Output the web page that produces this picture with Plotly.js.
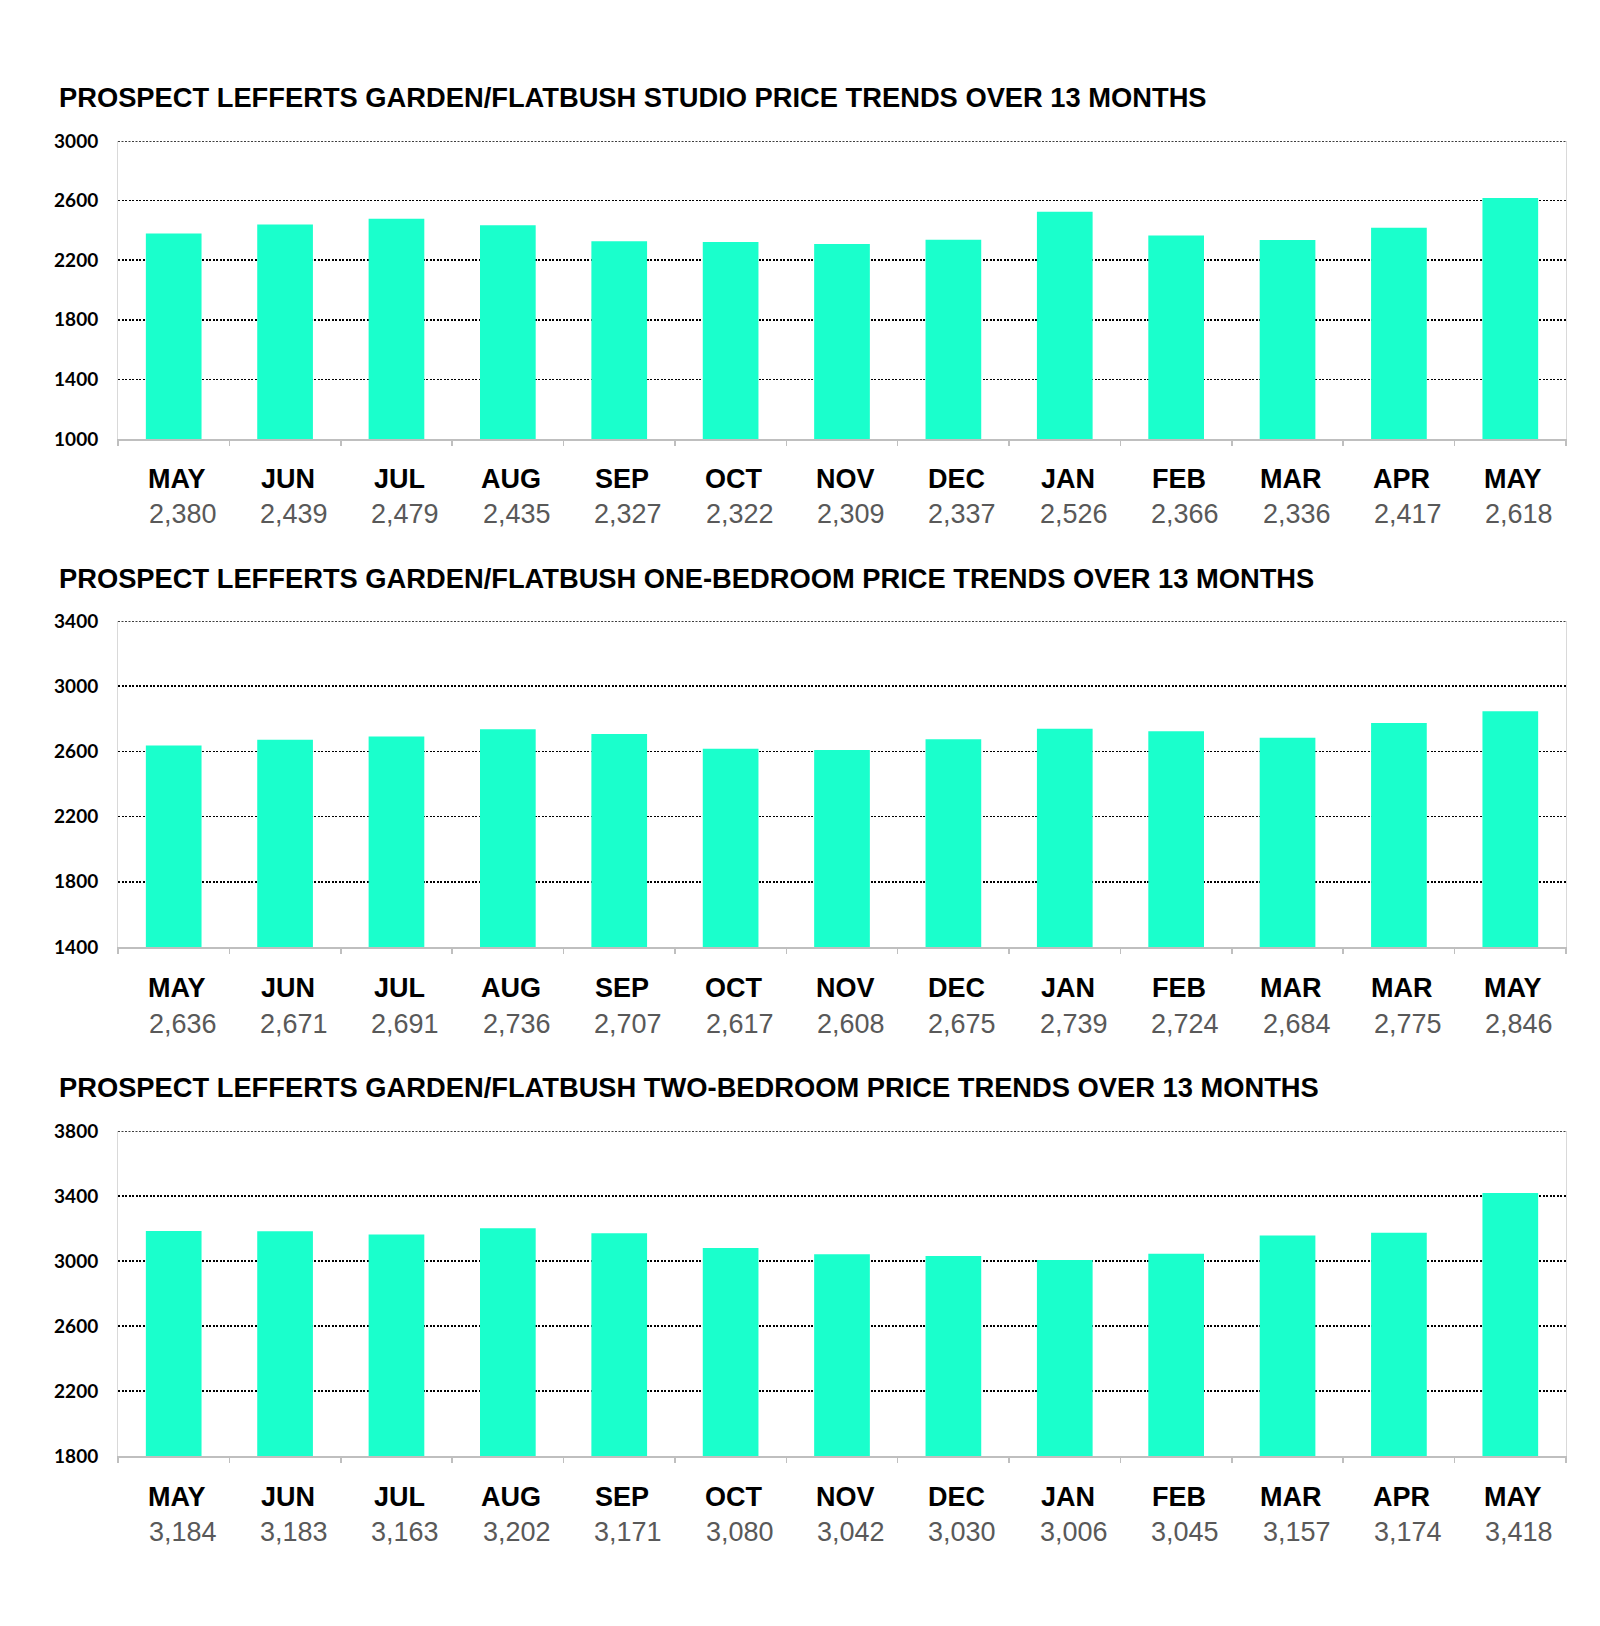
<!DOCTYPE html>
<html>
<head>
<meta charset="utf-8">
<script src="https://cdn.plot.ly/plotly-3.0.1.min.js"></script>
<style>html,body{margin:0;padding:0;background:#fff;}#chart{width:1600px;height:1626px;}</style>
</head>
<body>
<div id="chart"></div>
<script>
// ---- data ----
const titles = [
  "PROSPECT LEFFERTS GARDEN/FLATBUSH STUDIO PRICE TRENDS OVER 13 MONTHS",
  "PROSPECT LEFFERTS GARDEN/FLATBUSH ONE-BEDROOM PRICE TRENDS OVER 13 MONTHS",
  "PROSPECT LEFFERTS GARDEN/FLATBUSH TWO-BEDROOM PRICE TRENDS OVER 13 MONTHS"
];
const monthsStudio = ["MAY","JUN","JUL","AUG","SEP","OCT","NOV","DEC","JAN","FEB","MAR","APR","MAY"];
const monthsOneBed = ["MAY","JUN","JUL","AUG","SEP","OCT","NOV","DEC","JAN","FEB","MAR","MAR","MAY"];
const monthsTwoBed = ["MAY","JUN","JUL","AUG","SEP","OCT","NOV","DEC","JAN","FEB","MAR","APR","MAY"];
const studio = [2380,2439,2479,2435,2327,2322,2309,2337,2526,2366,2336,2417,2618];
const oneBed = [2636,2671,2691,2736,2707,2617,2608,2675,2739,2724,2684,2775,2846];
const twoBed = [3184,3183,3163,3202,3171,3080,3042,3030,3006,3045,3157,3174,3418];
const yMin = [1000,1400,1800];
const yMax = [3000,3400,3800];

// ---- layout helpers ----
const H = 1626, W = 1600;
const py = p => 1 - p / H;
const panels = [
  {months: monthsStudio, vals: studio, top: 141, bottom: 439, titleY: 98,  monthY: 479,  valY: 514},
  {months: monthsOneBed, vals: oneBed, top: 621, bottom: 947, titleY: 578, monthY: 988,  valY: 1024},
  {months: monthsTwoBed, vals: twoBed, top: 1131, bottom: 1456, titleY: 1087, monthY: 1497, valY: 1532}
];
const BAR = '#1AFFCC';
const GRID_DASH = '2px,1.5px';
const xDomain = [118/W, 1566/W];
const boundaries = Array.from({length: 14}, (_, i) => i - 0.5);

const data = [];
const annotations = [];
const shapes = [];
const layout = {
  width: W, height: H,
  margin: {l:0, r:0, t:0, b:0},
  paper_bgcolor: '#fff', plot_bgcolor: '#fff',
  showlegend: false,
  bargap: 0.5,
  annotations: annotations,
  shapes: shapes
};

panels.forEach((p, k) => {
  const n = k === 0 ? '' : String(k + 1);
  const idx = p.vals.map((_, i) => i);
  data.push({
    type: 'bar', x: idx, y: p.vals,
    xaxis: 'x' + n, yaxis: 'y' + n,
    marker: {color: BAR},
    hoverinfo: 'skip'
  });
  layout['xaxis' + n] = {
    domain: xDomain, anchor: 'y' + n,
    range: [-0.5, 12.5], fixedrange: true,
    tickmode: 'array', tickvals: boundaries, showticklabels: false,
    ticks: 'outside', ticklen: 5, tickcolor: '#BFBFBF', tickwidth: 1.5,
    showgrid: false, zeroline: false,
    showline: true, linecolor: '#BFBFBF', linewidth: 1.5
  };
  layout['yaxis' + n] = {
    domain: [py(p.bottom), py(p.top)], anchor: 'x' + n,
    range: [yMin[k], yMax[k]], dtick: 400, tick0: yMin[k],
    fixedrange: true,
    showgrid: true, gridcolor: '#000', griddash: GRID_DASH, gridwidth: 1.5,
    zeroline: false,
    showline: true, mirror: true, linecolor: '#D9D9D9', linewidth: 1,
    ticks: '', ticklabelstandoff: 15,
    tickfont: {family: 'Lato, "Open Sans", sans-serif', size: 19, color: '#000', weight: 'bold'}
  };
  // top gridline (Plotly skips the gridline sitting on the plot edge)
  shapes.push({
    type: 'line', layer: 'below',
    xref: 'x' + n + ' domain', x0: 0, x1: 1,
    yref: 'y' + n, y0: yMax[k], y1: yMax[k],
    line: {color: '#000', width: 1.5, dash: GRID_DASH}
  });
  annotations.push({
    xref: 'paper', yref: 'paper', x: 57/W, y: py(p.titleY),
    xanchor: 'left', yanchor: 'middle', showarrow: false,
    text: '<b>' + titles[k] + '</b>',
    font: {family: '"Liberation Sans", Arial, sans-serif', size: 27.3, color: '#000'}
  });
  p.months.forEach((m, i) => {
    annotations.push({
      xref: 'x' + n, yref: 'paper', x: i, y: py(p.monthY), xshift: 3,
      xanchor: 'center', yanchor: 'middle', showarrow: false,
      text: '<b>' + m + '</b>',
      font: {family: '"Liberation Sans", Arial, sans-serif', size: 27, color: '#000'}
    });
    annotations.push({
      xref: 'x' + n, yref: 'paper', x: i, y: py(p.valY), xshift: 9,
      xanchor: 'center', yanchor: 'middle', showarrow: false,
      text: p.vals[i].toLocaleString('en-US'),
      font: {family: '"Liberation Sans", Arial, sans-serif', size: 27, color: '#595959'}
    });
  });
});

Plotly.newPlot('chart', data, layout, {displayModeBar: false, staticPlot: true});
</script>
</body>
</html>
